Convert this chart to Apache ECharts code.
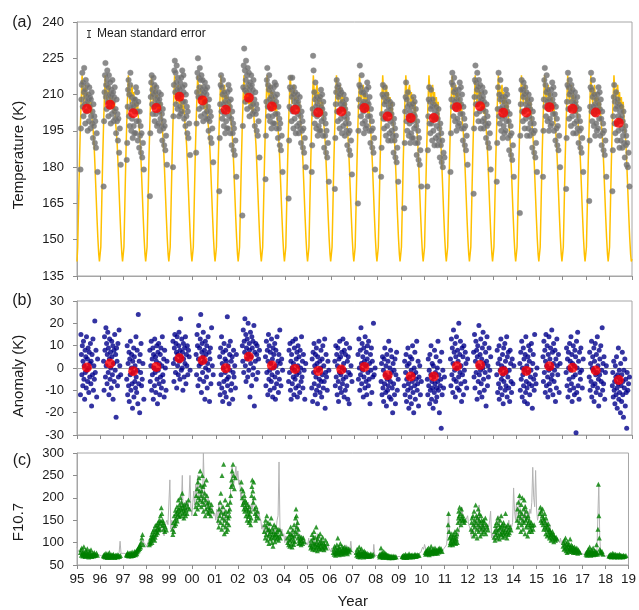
<!DOCTYPE html>
<html><head><meta charset="utf-8">
<script src="https://cdn.jsdelivr.net/npm/echarts@6/dist/echarts.min.js"></script>
<style>html,body{margin:0;padding:0;background:#fff}#c{width:639px;height:610px}</style>
</head><body><div id="c"></div>
<script>
// ---------- DATA ----------
const yearList = [1995,1996,1997,1998,1999,2000,2001,2002,2003,2004,2005,2006,2007,2008,2009,2010,2011,2012,2013,2014,2015,2016,2017,2018];
// observation nights (fraction of year) within each winter season
const obsDates = [0.15,0.17,0.19,0.21,0.23,0.25,0.26,0.28,0.30,0.31,0.33,0.35,0.36,0.38,0.40,0.41,0.43,0.45,0.46,0.48,0.50,0.51,0.53,0.55,0.56,0.58,0.60,0.61,0.63,0.65,0.67,0.69,0.71,0.73,0.75,0.77,0.79,0.82,0.85,0.89];
// climatological temperature curve over one year (repeats every year)
const goldFrac = [0,0.03,0.07,0.11,0.15,0.19,0.22,0.26,0.30,0.34,0.38,0.42,0.46,0.50,0.54,0.58,0.62,0.66,0.70,0.74,0.78,0.82,0.86,0.90,0.94,0.97];
const goldTemp = [141,147,165,183,198,210,218,211,206,212,214,206,211,204,209,202,207,199,195,189,180,170,160,151,144,141];
const goldEnd = 142;
// annual means
const meanDates = [1995.43,1996.43,1997.43,1998.43,1999.43,2000.43,2001.43,2002.43,2003.43,2004.43,2005.43,2006.43,2007.43,2008.43,2009.43,2010.43,2011.43,2012.43,2013.43,2014.43,2015.43,2016.43,2017.43,2018.43];
const meanTemp = [204.1,205.8,202.3,204.4,209.1,207.6,203.7,208.7,205.1,203.7,202.6,203.0,204.4,200.9,200.3,200.3,204.8,205.2,202.5,202.6,204.8,204.1,202.6,198.3];
const meanAnom = [0.2,2.0,-1.4,0.5,4.4,3.5,-0.1,5.0,1.1,-0.4,-1.3,-0.7,0.5,-3.2,-3.8,-3.8,0.8,1.3,-1.4,-1.3,0.8,0.1,-1.1,-5.4];

// nightly temperatures (K)
const temp1995 = [179,196,208,214,219,205,215,201,211,221,206,212,198,216,209,203,214,207,195,210,208,199,213,205,209,196,208,201,211,198,203,192,206,197,201,190,199,188,194,178];
const temp1996 = [172,199,211,218,223,209,214,204,216,220,207,213,201,218,210,205,215,209,198,212,210,202,216,207,211,199,209,203,213,200,204,194,208,199,202,191,200,186,196,181];
const temp1997 = [183,190,205,212,216,201,210,197,214,219,204,195,209,200,206,192,205,197,208,194,203,208,194,213,206,199,211,203,191,207,199,188,203,193,197,186,194,184,190,179];
const temp1998 = [168,194,209,215,218,206,212,202,210,217,205,214,199,211,208,202,213,206,197,209,207,198,211,203,208,195,206,200,210,197,202,191,204,196,199,189,197,187,193,181];
const temp1999 = [180,201,214,220,224,211,219,206,215,222,212,204,217,209,213,201,212,205,215,202,210,217,203,220,213,207,218,211,200,214,207,197,210,201,205,194,203,192,198,185];
const temp2000 = [186,198,211,219,225,209,217,204,213,221,209,216,201,218,212,205,216,210,199,213,211,202,215,207,212,200,210,203,213,200,205,195,208,199,203,192,201,190,196,182];
const temp2001 = [170,192,206,214,218,203,213,200,210,216,206,197,211,202,207,194,205,199,209,196,204,211,196,214,207,201,212,205,194,208,200,189,203,194,198,187,196,185,191,176];
const temp2002 = [160,197,213,222,229,212,220,207,216,224,211,218,204,221,214,208,219,212,201,215,213,205,218,210,214,202,212,206,216,203,208,197,211,202,206,195,204,193,199,184];
const temp2003 = [175,193,207,216,221,205,214,201,212,218,208,199,213,204,209,196,207,201,211,198,206,213,198,215,209,202,214,207,196,210,202,192,205,196,200,189,198,187,193,178];
const temp2004 = [167,191,205,213,217,204,212,199,209,217,203,210,196,213,207,200,211,205,194,208,206,197,210,202,207,194,205,198,209,196,201,190,203,195,199,188,196,186,192,180];
const temp2005 = [178,189,204,226,220,202,211,198,208,215,205,196,209,201,206,193,204,197,208,195,202,209,195,212,205,199,210,204,193,207,200,188,202,193,198,186,195,184,190,174];
const temp2006 = [171,192,206,211,216,203,213,199,209,214,203,210,196,212,206,200,211,204,194,207,205,197,210,201,206,193,204,198,208,195,200,189,202,194,198,187,195,185,191,177];
const temp2007 = [165,195,208,214,222,205,213,201,211,218,206,198,211,203,207,194,205,199,210,196,204,212,197,215,207,201,213,206,195,209,201,190,204,195,199,188,196,186,192,179];
const temp2008 = [176,188,202,210,214,200,209,196,206,213,200,207,193,210,203,197,208,202,191,205,202,194,207,199,204,191,202,195,206,193,198,186,200,191,196,184,193,182,188,174];
const temp2009 = [163,190,203,209,215,199,208,195,205,211,201,193,206,198,203,190,201,194,205,192,199,206,192,209,202,196,207,201,190,204,197,185,199,190,195,183,192,181,187,172];
const temp2010 = [172,187,201,208,213,198,207,194,204,212,198,205,191,208,201,195,206,200,189,203,200,192,205,197,202,189,200,193,204,191,196,184,198,189,194,182,191,180,186,184];
const temp2011 = [178,194,208,215,219,205,214,201,211,217,207,199,212,204,208,195,206,200,210,197,205,212,198,215,208,202,213,206,196,210,202,191,205,196,200,189,197,187,193,181];
const temp2012 = [169,196,209,216,222,206,215,202,212,219,206,213,199,216,209,203,214,207,196,211,208,199,213,204,209,196,207,200,211,198,203,192,206,197,201,190,198,188,194,179];
const temp2013 = [174,190,204,213,219,201,210,198,208,216,204,195,209,200,205,192,203,197,207,194,201,209,195,212,205,199,210,203,192,207,199,187,202,193,197,185,194,183,189,176];
const temp2014 = [161,193,206,212,216,203,212,199,209,215,203,210,196,213,206,200,211,204,193,208,205,196,210,201,206,193,204,198,208,195,200,188,203,194,198,186,195,184,190,178];
const temp2015 = [176,195,208,216,221,205,214,201,211,218,207,199,212,204,208,195,206,200,210,197,205,212,198,215,208,202,213,206,195,210,202,191,205,196,200,189,197,187,193,180];
const temp2016 = [171,192,207,214,219,204,213,200,210,216,204,211,197,214,207,201,212,205,194,209,206,198,211,203,207,194,205,199,209,196,201,190,204,195,199,188,196,186,192,178];
const temp2017 = [166,191,205,213,219,203,212,199,209,216,205,197,210,202,206,193,204,198,208,195,203,210,196,213,206,200,211,204,193,208,200,189,203,194,198,187,195,185,191,176];
const temp2018 = [170,187,201,209,214,198,207,194,204,211,198,205,191,208,201,195,206,199,188,203,200,191,205,196,201,188,199,193,203,190,195,184,197,189,193,181,190,180,186,172];

// nightly anomalies (K)
const anom1995 = [-12,15,6,-3,10,-8,3,12,-5,1,-14,8,-2,5,-9,14,-1,4,-6,9,0,-11,7,-4,2,11,-7,3,-17,6,-3,13,-10,1,-5,21,-2,8,-13,4];
const anom1996 = [3,-10,14,8,-4,18,1,11,-7,6,16,-2,9,-12,4,13,-5,7,0,-9,12,5,-3,10,-14,2,8,-6,15,-1,6,-22,9,3,-8,11,-4,17,1,-3];
const anom1997 = [-5,10,-12,2,-8,7,-15,4,-3,12,-10,0,6,-7,-18,3,-2,9,-13,5,-6,1,-9,14,-4,-11,8,-1,-16,24,-7,3,-20,6,-2,11,-8,-5,2,-14];
const anom1998 = [8,-6,1,12,-10,4,-3,9,-14,6,0,-8,13,-2,5,-11,3,10,-5,-16,7,-1,11,-7,2,-12,6,-4,9,-9,1,14,-3,-6,4,-13,8,0,-10,3];
const anom1999 = [12,2,-6,9,15,4,-2,11,7,-9,14,1,6,-3,10,16,3,-5,8,22,5,-1,13,0,7,-10,11,4,-4,9,2,14,-7,6,1,10,-3,8,5,-1];
const anom2000 = [6,-3,15,10,-8,4,19,1,9,-5,13,24,2,-11,7,11,-2,5,16,-6,3,8,-14,12,0,6,-4,10,-9,2,14,-1,7,-15,4,9,-7,18,1,-3];
const anom2001 = [-7,5,-12,9,-3,14,-9,2,-15,7,0,-6,11,-11,4,-2,8,-13,3,-5,23,-8,1,-4,10,-16,6,-1,12,-10,3,-7,5,-14,-2,8,-4,1,-9,6];
const anom2002 = [10,3,17,-2,12,7,22,1,15,-6,9,4,13,-4,20,6,-1,11,8,-13,16,2,5,-8,14,9,-3,12,0,19,-17,7,3,11,-5,6,10,-2,4,8];
const anom2003 = [5,-8,12,-2,8,-12,3,15,-5,10,-1,-10,7,2,-6,13,-3,4,-13,9,0,6,-9,11,-4,-14,8,1,-7,14,-2,3,-11,6,-5,17,2,-8,4,-1];
const anom2004 = [-6,8,-2,11,-10,3,-14,6,0,-7,12,-4,2,-12,9,-1,-5,13,-9,4,-3,7,-13,1,10,-8,5,-2,-11,8,0,-6,14,-4,3,-9,6,-1,-14,2];
const anom2005 = [-9,4,-15,7,-2,11,-7,1,-12,6,-4,9,-10,2,-16,5,-1,-8,12,-5,3,-11,0,8,-6,-13,4,-3,10,-9,1,-6,13,-18,-2,6,-4,-10,3,-1];
const anom2006 = [3,-8,10,-4,6,-12,1,9,-6,-15,4,-2,12,-9,5,-3,-11,7,0,-7,13,-5,2,-13,8,-1,-10,6,-4,11,-8,3,-14,5,-2,-16,9,-3,1,-6];
const anom2007 = [6,-5,13,0,-10,8,-3,18,2,-7,11,-1,5,-13,9,-4,3,-9,14,1,-6,7,-12,4,10,-2,-8,12,-5,2,-16,6,-1,9,-11,3,-4,20,-3,0];
const anom2008 = [-6,2,-12,5,-9,-1,-15,4,-7,9,-3,-11,1,-17,6,-5,-10,3,-8,12,-4,-13,0,-6,8,-14,-2,5,-9,-20,2,-7,-1,-12,4,-16,-3,7,-10,-5];
const anom2009 = [-8,3,-12,-2,6,-15,-5,1,-10,9,-7,-18,2,-4,-13,5,-9,-1,-16,4,-6,10,-11,-3,-20,0,-8,7,-14,-2,-5,12,-10,-7,3,-17,-4,1,-12,-6];
const anom2010 = [-5,-12,4,-8,-1,-16,6,-10,-3,10,-14,-6,2,-9,-18,1,-4,-11,8,-7,-2,-15,5,-9,-13,0,-6,12,-10,-3,-20,3,-8,-5,-27,7,-12,-1,-9,-4];
const anom2011 = [4,-8,13,-3,9,-11,2,17,-5,7,-1,11,-13,5,-6,14,0,-9,8,3,-4,20,-10,6,-2,12,-7,1,-15,9,-3,5,-12,10,-1,-6,7,2,-9,4];
const anom2012 = [7,-4,15,-9,3,12,-2,8,-14,5,10,-6,1,19,-3,-11,6,-1,13,-7,4,-13,9,0,16,-5,2,-10,11,-2,7,-17,3,14,-8,1,-4,9,-1,5];
const anom2013 = [-3,8,-11,2,-7,10,-14,4,-1,-9,13,-5,1,-12,6,-3,-16,9,-6,0,11,-10,3,-8,-2,14,-13,5,-4,7,-9,-1,-15,8,2,-6,-11,4,-7,1];
const anom2014 = [2,-10,7,-5,12,-13,0,-3,9,-8,4,-15,-1,6,-11,14,-6,1,-9,-16,5,-2,10,-7,3,-12,8,-4,-1,11,-8,-18,2,6,-5,-10,15,-3,-7,0];
const anom2015 = [5,-6,12,-2,8,-11,3,15,-8,1,10,-4,-13,6,-1,14,-7,4,-10,9,0,-5,17,-3,7,-12,2,11,-6,-1,8,-15,4,-9,13,1,-3,6,-11,2];
const anom2016 = [-2,9,-8,4,-13,7,0,-5,11,-10,3,-1,14,-7,6,-15,2,-4,10,-9,1,-12,8,-3,5,-29,12,-11,0,16,-8,3,-14,7,-2,-5,9,-1,-9,4];
const anom2017 = [-4,7,-10,2,-6,12,-13,0,5,-8,-1,9,-15,3,-7,11,-3,-11,6,-2,14,-9,1,-5,-17,8,-3,4,-12,10,-6,-1,18,-10,2,-7,5,-14,-2,1];
const anom2018 = [-8,-2,-13,3,-10,-6,-16,1,-4,-12,5,-9,-18,-3,-7,9,-14,-1,-11,-5,-20,2,-8,-15,-3,7,-12,-6,-22,-1,-9,4,-17,-5,-11,-27,-2,-10,-7,-4];

// F10.7 on observation nights
const fluxObs1995 = [78,84,72,88,75,70,80,74,91,77,72,69,76,83,73,71,79,86,74,70,72,68,77,81,73,70,75,84,71,69,73,76,72,70,78,74,71,73,77,72];
const fluxObs1996 = [71,69,74,72,68,70,76,73,69,67,71,75,70,68,72,78,69,71,67,70,73,68,70,72,69,74,71,68,70,67,72,70,69,71,73,68,70,72,69,71];
const fluxObs1997 = [73,71,75,78,72,70,74,76,71,73,77,72,70,75,79,73,71,74,72,76,80,74,78,73,77,82,75,79,85,81,88,84,92,87,96,90,101,110,118,95];
const fluxObs1998 = [95,102,98,110,105,118,100,112,125,108,115,130,120,105,112,138,128,118,125,140,132,122,145,135,128,150,142,130,160,148,178,165,138,150,145,130,140,125,135,128];
const fluxObs1999 = [130,118,145,125,160,138,150,172,142,165,155,180,148,170,162,195,175,158,185,168,200,178,160,190,172,210,182,165,175,155,185,168,178,160,172,188,165,180,195,175];
const fluxObs2000 = [165,180,205,190,220,175,235,200,185,245,215,195,260,228,205,180,215,250,192,225,170,200,185,230,210,160,195,175,240,205,188,168,180,165,190,172,178,160,185,170];
const fluxObs2001 = [150,135,175,160,190,145,210,168,130,250,155,180,140,275,165,120,150,195,135,170,125,160,145,185,130,155,170,140,160,175,190,205,225,240,260,230,275,250,220,245];
const fluxObs2002 = [235,220,200,185,215,190,175,205,170,195,180,160,190,175,150,185,165,172,158,145,180,162,150,170,140,155,205,225,240,215,190,235,200,175,165,150,180,160,170,155];
const fluxObs2003 = [125,140,110,150,118,135,160,105,128,145,115,98,130,120,142,108,125,155,112,100,132,118,92,125,110,140,115,102,120,135,108,118,125,112,130,105,115,128,110,120];
const fluxObs2004 = [110,100,125,95,115,105,92,120,135,108,98,118,90,112,128,104,96,140,115,102,125,155,175,160,135,120,145,110,130,98,105,115,100,108,95,112,104,98,110,102];
const fluxObs2005 = [95,88,105,92,118,85,100,110,90,125,98,84,112,95,88,135,102,92,82,108,96,115,90,86,100,120,94,85,105,98,90,112,88,100,84,95,92,105,88,98];
const fluxObs2006 = [78,85,74,92,80,72,88,76,82,95,75,110,84,78,90,73,86,80,98,75,82,77,92,79,85,74,88,81,76,90,83,78,85,80,88,75,82,86,79,84];
const fluxObs2007 = [78,72,85,74,69,80,76,90,73,68,82,75,71,86,77,70,74,79,72,68,81,76,73,70,78,74,69,72,76,71,70,74,72,69,73,71,75,70,72,74];
const fluxObs2008 = [72,68,75,70,88,74,69,78,71,67,73,80,70,68,72,76,69,71,74,67,70,72,68,71,69,66,70,68,67,69,70,68,66,69,67,68,70,67,69,68];
const fluxObs2009 = [69,70,68,72,67,70,71,69,74,68,70,67,71,69,72,68,70,75,69,71,68,70,72,69,71,73,70,68,71,69,72,70,74,71,69,72,70,73,71,72];
const fluxObs2010 = [78,74,82,76,80,85,75,79,88,77,73,81,76,84,78,92,79,75,83,77,80,86,78,82,76,88,80,77,84,79,83,76,81,86,79,84,88,82,86,80];
const fluxObs2011 = [140,165,125,110,95,100,115,105,98,120,108,95,112,102,118,100,110,125,105,98,115,108,120,100,130,145,155,170,160,179,150,165,140,175,155,148,160,152,145,150];
const fluxObs2012 = [130,145,155,125,160,140,115,170,150,135,120,184,145,160,130,110,155,140,175,125,150,165,135,115,145,160,130,150,120,140,135,150,125,145,130,155,120,140,135,128];
const fluxObs2013 = [112,125,105,138,118,130,145,110,122,155,128,115,140,108,132,150,120,135,160,118,125,140,112,130,145,122,138,115,128,165,120,135,110,125,140,118,130,122,135,128];
const fluxObs2014 = [150,175,135,190,160,145,205,170,155,125,185,140,165,200,150,130,175,145,195,160,120,180,150,135,170,155,140,115,160,145,125,150,135,140,130,145,125,138,130,140];
const fluxObs2015 = [165,179,150,170,145,160,175,140,155,130,150,165,135,145,120,155,130,140,115,135,125,142,118,130,110,128,115,122,105,120,112,125,108,118,102,115,110,105,112,108];
const fluxObs2016 = [92,100,85,105,95,88,110,82,98,90,78,102,86,94,80,96,88,84,108,90,82,95,86,80,92,85,78,88,82,90,84,78,86,80,88,82,76,84,80,78];
const fluxObs2017 = [74,78,72,80,76,85,73,82,77,90,75,79,72,84,78,74,80,76,88,73,79,75,82,77,74,80,76,95,78,74,130,230,160,110,85,78,82,76,80,74];
const fluxObs2018 = [70,72,69,74,71,68,73,70,76,72,69,71,75,70,68,72,74,69,71,70,73,68,72,70,69,71,74,70,68,72,70,69,71,70,68,70,72,69,70,71];

// F10.7 twice-monthly record
const flux1995 = [90,82,85,78,80,76,75,78,72,76,74,73,72,75,71,74,73,76,74,78,76,72,75,74];
const flux1996 = [72,70,71,69,70,72,68,70,71,69,70,72,69,71,70,72,68,70,71,73,78,103,76,72];
const flux1997 = [74,76,76,73,75,72,74,73,76,72,71,74,73,78,80,84,88,95,90,86,98,105,100,96];
const flux1998 = [95,90,100,96,110,104,115,108,104,112,118,110,125,130,135,145,140,128,125,115,135,145,150,140];
const flux1999 = [140,240,130,150,125,140,130,150,165,175,155,180,170,185,250,150,160,185,195,175,170,200,250,175];
const flux2000 = [160,190,215,180,230,200,250,210,190,230,205,180,300,220,195,170,185,200,160,175,165,180,170,160];
const flux2001 = [165,150,175,140,190,155,170,185,160,145,175,150,130,145,165,180,200,240,270,220,235,250,270,240];
const flux2002 = [260,230,240,200,210,185,175,195,180,170,165,190,160,175,185,170,200,180,165,150,175,160,170,155];
const flux2003 = [150,130,140,120,135,125,115,140,120,130,125,110,120,140,115,125,130,150,160,280,135,120,130,115];
const flux2004 = [120,100,115,105,95,110,100,105,115,130,110,100,120,135,150,125,110,100,105,95,115,100,105,95];
const flux2005 = [100,95,110,90,100,85,95,115,90,100,95,120,90,100,95,110,90,85,80,95,85,90,95,88];
const flux2006 = [85,80,88,78,82,75,80,85,78,90,76,80,82,78,88,75,80,95,78,82,90,85,103,82];
const flux2007 = [80,85,75,78,72,76,74,70,78,72,75,73,70,72,71,69,70,68,72,70,71,68,96,72];
const flux2008 = [72,70,71,69,73,70,68,72,70,69,67,70,68,66,67,69,68,67,69,68,70,69,68,69];
const flux2009 = [70,71,69,70,68,71,69,70,68,69,70,71,68,69,70,68,70,72,71,73,75,77,74,78];
const flux2010 = [82,90,85,96,88,80,78,82,76,74,73,76,78,80,82,85,80,78,82,85,88,80,84,86];
const flux2011 = [84,88,95,120,165,130,110,100,115,105,98,110,100,105,112,125,140,150,179,160,145,140,150,155];
const flux2012 = [160,140,135,125,110,130,120,150,135,160,140,125,184,125,140,120,150,125,140,130,125,140,135,150];
const flux2013 = [170,110,120,105,125,135,115,140,160,150,120,130,145,125,115,135,140,120,130,150,125,140,135,145];
const flux2014 = [222,170,150,190,145,160,205,170,150,165,140,155,185,145,160,170,150,175,165,190,268,200,180,261];
const flux2015 = [175,150,160,180,175,150,140,160,135,145,125,150,130,120,140,115,125,110,120,105,115,100,110,105];
const flux2016 = [100,110,95,105,90,100,85,92,88,96,82,90,85,88,80,86,78,84,80,76,82,78,80,76];
const flux2017 = [75,78,73,80,76,82,74,78,80,76,72,75,78,74,80,76,160,230,110,78,74,72,74,70];
const flux2018 = [70,72,69,71,70,73,70,72,71,70,69,72,70,71,69,70,72,70,69,70,71,69,70,71];
const fluxEnd = 70;

// axis ticks
const tempTicks = {min:135, max:240, interval:15};
const anomTicks = {min:-30, max:30, interval:10};
const fluxTicks = {min:50, max:300, interval:50};

// ---------- BUILD ----------
const tempYears = [temp1995,temp1996,temp1997,temp1998,temp1999,temp2000,temp2001,temp2002,temp2003,temp2004,temp2005,temp2006,temp2007,temp2008,temp2009,temp2010,temp2011,temp2012,temp2013,temp2014,temp2015,temp2016,temp2017,temp2018];
const anomYears = [anom1995,anom1996,anom1997,anom1998,anom1999,anom2000,anom2001,anom2002,anom2003,anom2004,anom2005,anom2006,anom2007,anom2008,anom2009,anom2010,anom2011,anom2012,anom2013,anom2014,anom2015,anom2016,anom2017,anom2018];
const fluxObsYears = [fluxObs1995,fluxObs1996,fluxObs1997,fluxObs1998,fluxObs1999,fluxObs2000,fluxObs2001,fluxObs2002,fluxObs2003,fluxObs2004,fluxObs2005,fluxObs2006,fluxObs2007,fluxObs2008,fluxObs2009,fluxObs2010,fluxObs2011,fluxObs2012,fluxObs2013,fluxObs2014,fluxObs2015,fluxObs2016,fluxObs2017,fluxObs2018];
const fluxYears = [flux1995,flux1996,flux1997,flux1998,flux1999,flux2000,flux2001,flux2002,flux2003,flux2004,flux2005,flux2006,flux2007,flux2008,flux2009,flux2010,flux2011,flux2012,flux2013,flux2014,flux2015,flux2016,flux2017,flux2018];

const tempPts = [], anomPts = [], obsPts = [], fluxPts = [], goldPts = [];
yearList.forEach((y, k) => {
  obsDates.forEach((d, i) => {
    tempPts.push([y + d, tempYears[k][i]]);
    anomPts.push([y + d, anomYears[k][i]]);
    obsPts.push([y + d, fluxObsYears[k][i]]);
  });
  goldFrac.forEach((f, i) => goldPts.push([y + f, goldTemp[i]]));
  fluxYears[k].forEach((v, i) => fluxPts.push([y + i / 24, v]));
});
goldPts.push([2019, goldEnd]);
fluxPts.push([2019, fluxEnd]);
const meanTempPts = meanDates.map((d, i) => [d, meanTemp[i]]);
const meanAnomPts = meanDates.map((d, i) => [d, meanAnom[i]]);

const FONT = '"Liberation Sans", Arial, sans-serif';
const AX = '#a6a6a6';
const gridBase = {left:77, right:7, show:true, borderColor:AX, borderWidth:1, backgroundColor:'transparent'};

function xAx(i, showLabel) {
  return {
    type:'value', gridIndex:i, min:1995, max:2019, interval:1,
    axisLine:{show:true, onZero:false, lineStyle:{color:AX}},
    axisTick:{show:true, length:4, lineStyle:{color:'#8c8c8c'}},
    splitLine:{show:false},
    axisLabel:{show:showLabel, fontSize:13.5, color:'#1a1a1a', fontFamily:FONT, margin:7,
      formatter: v => { const s = String(v % 100); return s.length < 2 ? '0' + s : s; }},
    name: showLabel ? 'Year' : '', nameLocation:'middle', nameGap:29,
    nameTextStyle:{fontSize:15, color:'#1a1a1a', fontFamily:FONT}
  };
}
function yAx(i, t) {
  return {
    type:'value', gridIndex:i, min:t.min, max:t.max, interval:t.interval,
    axisLine:{show:true, onZero:false, lineStyle:{color:AX}},
    axisTick:{show:true, length:4, lineStyle:{color:'#8c8c8c'}},
    splitLine:{show:false},
    axisLabel:{fontSize:13, color:'#1a1a1a', fontFamily:FONT, margin:13}
  };
}
function txt(x, y, text, size, rot) {
  return {type:'text', x:x, y:y, rotation:rot || 0,
    style:{text:text, fontSize:size, fontFamily:FONT, fill:'#1a1a1a',
      align:'center', verticalAlign:'middle', textAlign:'center', textVerticalAlign:'middle'}};
}

const chart = echarts.init(document.getElementById('c'), null, {renderer:'canvas'});
chart.setOption({
  animation:false,
  backgroundColor:'#ffffff',
  textStyle:{fontFamily:FONT},
  grid:[
    Object.assign({top:22, height:254}, gridBase),
    Object.assign({top:301, height:134}, gridBase),
    Object.assign({top:453, height:119}, gridBase)
  ],
  xAxis:[xAx(0,false), xAx(1,false), xAx(2,true)],
  yAxis:[yAx(0,tempTicks), yAx(1,anomTicks), yAx(2,fluxTicks)],
  graphic:[
    txt(22, 23, '(a)', 16), txt(22, 301, '(b)', 16), txt(22, 461, '(c)', 16),
    txt(19, 155, 'Temperature (K)', 15, Math.PI/2),
    txt(19, 376, 'Anomaly (K)', 15, Math.PI/2),
    txt(19, 522, 'F10.7', 15, Math.PI/2),
    {type:'line', shape:{x1:89, y1:30, x2:89, y2:38}, style:{stroke:'#333', lineWidth:1}},
    {type:'line', shape:{x1:87, y1:30.5, x2:91, y2:30.5}, style:{stroke:'#333', lineWidth:1}},
    {type:'line', shape:{x1:87, y1:37.5, x2:91, y2:37.5}, style:{stroke:'#333', lineWidth:1}},
    {type:'text', x:97, y:34, style:{text:'Mean standard error', fontSize:12, fontFamily:FONT, fill:'#1a1a1a',
      align:'left', verticalAlign:'middle', textAlign:'left', textVerticalAlign:'middle'}}
  ],
  series:[
    {type:'line', xAxisIndex:0, yAxisIndex:0, data:goldPts, showSymbol:false, symbol:'none',
      lineStyle:{color:'#FFC000', width:1.5}, z:1, silent:true},
    {type:'scatter', xAxisIndex:0, yAxisIndex:0, data:tempPts, symbol:'circle', symbolSize:5.5,
      itemStyle:{color:'#6e6e6e', borderColor:'#8a8a8a', borderWidth:0.6}, z:2, silent:true},
    {type:'scatter', xAxisIndex:0, yAxisIndex:0, data:meanTempPts, symbolSize:10,
      itemStyle:{color:'#ff0000'}, z:4, silent:true},
    {type:'scatter', xAxisIndex:1, yAxisIndex:1, data:anomPts, symbolSize:5,
      itemStyle:{color:'#00008b'}, z:2, silent:true,
      markLine:{silent:true, symbol:'none', label:{show:false}, lineStyle:{color:'#a6a6a6', width:1, type:'solid'},
        data:[{yAxis:0}], z:1}},
    {type:'scatter', xAxisIndex:1, yAxisIndex:1, data:meanAnomPts, symbolSize:10,
      itemStyle:{color:'#ff0000'}, z:4, silent:true},
    {type:'line', xAxisIndex:2, yAxisIndex:2, data:fluxPts, showSymbol:false, symbol:'none',
      lineStyle:{color:'#b3b3b3', width:1}, z:2, silent:true},
    {type:'scatter', xAxisIndex:2, yAxisIndex:2, data:obsPts, symbol:'triangle', symbolSize:5,
      itemStyle:{color:'#008000'}, z:3, silent:true}
  ]
});
</script>
</body></html>
